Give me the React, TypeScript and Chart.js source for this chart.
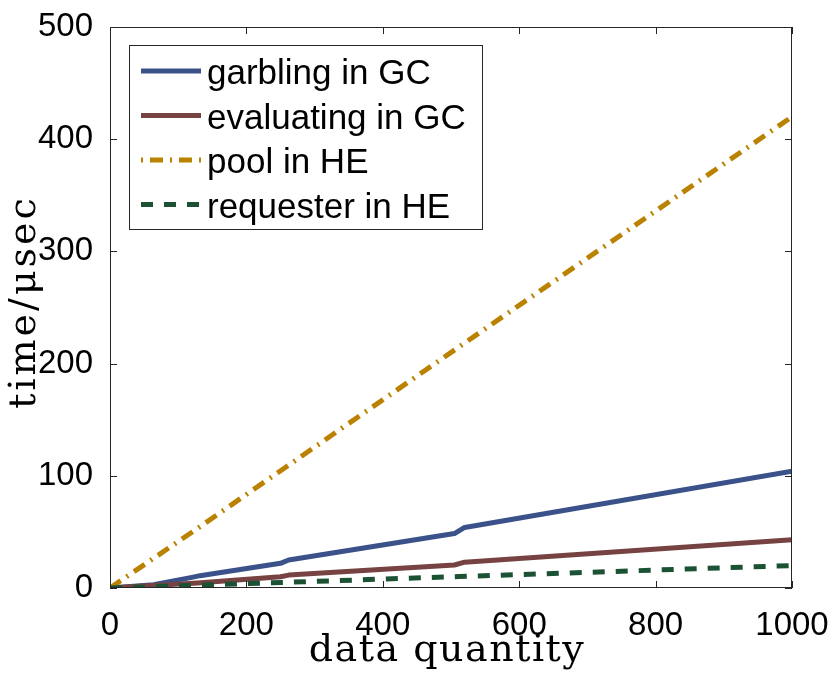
import { useEffect, useRef } from 'react'
import { Chart, registerables, type Plugin } from 'chart.js'

Chart.register(...registerables)

// data
const QTY_GARBLING   = [0, 64, 120, 132, 250, 262, 505, 520, 1000]
const TIME_GARBLING  = [0, 3, 9.5, 11, 22, 25, 48.5, 54, 104]
const QTY_EVALUATING = [0, 128, 250, 262, 505, 520, 1000]
const TIME_EVALUATING = [0, 4.5, 10, 11.5, 20.5, 23, 43]
const QTY_HE         = [0, 128, 256, 512, 1000]
const TIME_POOL      = [0, 53, 107, 215, 420]
const TIME_REQUESTER = [0, 2.5, 5, 10.2, 20]

const SERIES_LABELS = ['garbling in GC', 'evaluating in GC', 'pool in HE', 'requester in HE']
const X_TITLE = 'data quantity'
const Y_TITLE = 'time/μsec'

const BLUE  = '#3a5289'
const BROWN = '#774242'
const GOLD  = '#ba8200'
const GREEN = '#1b5234'
const FRAME = '#262626'

const SANS  = "'Liberation Sans', Arial, sans-serif"
const SERIF = "'DejaVu Serif', serif"

const pts = (xs: number[], ys: number[]) => xs.map((x, i) => ({ x, y: ys[i] }))

// box, inside ticks, axis titles and the boxed legend (MATLAB look)
const decor: Plugin<'line'> = {
  id: 'decor',
  afterDraw(chart) {
    const { ctx, chartArea: a } = chart
    const xs = chart.scales.x
    const ys = chart.scales.y
    ctx.save()

    ctx.strokeStyle = FRAME
    ctx.lineWidth = 1
    ctx.strokeRect(Math.round(a.left) + 0.5, Math.round(a.top) + 0.5,
      Math.round(a.right - a.left) - 1, Math.round(a.bottom - a.top) - 1)

    const TL = 7
    ctx.beginPath()
    xs.ticks.forEach((t) => {
      const p = Math.round(xs.getPixelForValue(t.value)) + 0.5
      ctx.moveTo(p, a.bottom); ctx.lineTo(p, a.bottom - TL)
      ctx.moveTo(p, a.top); ctx.lineTo(p, a.top + TL)
    })
    ys.ticks.forEach((t) => {
      const p = Math.round(ys.getPixelForValue(t.value)) + 0.5
      ctx.moveTo(a.left, p); ctx.lineTo(a.left + TL, p)
      ctx.moveTo(a.right, p); ctx.lineTo(a.right - TL, p)
    })
    ctx.stroke()

    // axis titles
    ctx.fillStyle = '#000'
    ctx.font = `38px ${SERIF}`
    ctx.textAlign = 'center'
    ctx.textBaseline = 'alphabetic'
    ;(ctx as any).letterSpacing = '1.5px'
    ctx.fillText(X_TITLE, (a.left + a.right) / 2 - 4, 661)
    ;(ctx as any).letterSpacing = '3px'
    ctx.save()
    ctx.translate(35, 302)
    ctx.rotate(-Math.PI / 2)
    ctx.fillText(Y_TITLE, 0, 0)
    ctx.restore()
    ;(ctx as any).letterSpacing = '0px'

    // legend
    const L = { x: 129.5, y: 45.5, w: 353, h: 184 }
    ctx.fillStyle = '#fff'
    ctx.fillRect(L.x, L.y, L.w, L.h)
    ctx.strokeStyle = FRAME
    ctx.lineWidth = 1
    ctx.strokeRect(L.x, L.y, L.w, L.h)
    ctx.font = `35px ${SANS}`
    ctx.textAlign = 'left'
    chart.data.datasets.forEach((ds: any, i) => {
      const y = 71 + i * 44.5
      ctx.save()
      ctx.strokeStyle = ds.borderColor
      ctx.lineWidth = ds.borderWidth
      ctx.lineCap = 'butt'
      ctx.setLineDash(ds.borderDash || [])
      ctx.lineDashOffset = ds.legendDashOffset || 0
      ctx.beginPath()
      ctx.moveTo(141, y); ctx.lineTo(201, y)
      ctx.stroke()
      ctx.restore()
      ctx.fillStyle = '#000'
      ctx.fillText(ds.label, 207, y + 13)
    })
    ctx.restore()
  },
}

export default function App() {
  const canvasRef = useRef<HTMLCanvasElement>(null)

  useEffect(() => {
    document.body.style.margin = '0'
    if (!canvasRef.current) return
    const tickFont = { family: SANS, size: 33, lineHeight: 1.2 }

    const chart = new Chart(canvasRef.current, {
      type: 'line',
      data: {
        datasets: [
          {
            label: SERIES_LABELS[0],
            data: pts(QTY_GARBLING, TIME_GARBLING),
            borderColor: BLUE, borderWidth: 5, order: 4,
          },
          {
            label: SERIES_LABELS[1],
            data: pts(QTY_EVALUATING, TIME_EVALUATING),
            borderColor: BROWN, borderWidth: 5, order: 3,
          },
          {
            label: SERIES_LABELS[2],
            data: pts(QTY_HE, TIME_POOL),
            borderColor: GOLD, borderWidth: 5, order: 2,
            borderDash: [13, 7, 2, 7], legendDashOffset: 20,
          } as any,
          {
            label: SERIES_LABELS[3],
            data: pts(QTY_HE, TIME_REQUESTER),
            borderColor: GREEN, borderWidth: 5, order: 1,
            borderDash: [12, 11],
          },
        ],
      },
      options: {
        responsive: true,
        maintainAspectRatio: false,
        animation: false,
        layout: { padding: { top: 27, right: 38, left: 0, bottom: 0 } },
        elements: {
          point: { radius: 0, hoverRadius: 0 },
          line: { tension: 0, borderCapStyle: 'butt', borderJoinStyle: 'round', fill: false },
        },
        plugins: { legend: { display: false }, tooltip: { enabled: false } },
        scales: {
          x: {
            type: 'linear', min: 0, max: 1000,
            grid: { display: false },
            border: { display: false },
            ticks: { stepSize: 200, color: '#000', font: tickFont, padding: 10, maxRotation: 0,
              callback: (v) => String(v) },
            afterFit: (s: any) => { s.height = 96; s.paddingLeft = 0; s.paddingRight = 0 },
          },
          y: {
            type: 'linear', min: 0, max: 500,
            grid: { display: false },
            border: { display: false },
            ticks: { stepSize: 100, color: '#000', font: tickFont, padding: 9,
              callback: (v) => String(v) },
            afterFit: (s: any) => { s.width = 110; s.paddingTop = 0; s.paddingBottom = 0 },
          },
        },
      },
      plugins: [decor],
    })

    return () => chart.destroy()
  }, [])

  return (
    <div style={{ width: 830, height: 684, position: 'relative', background: '#fff' }}>
      <canvas ref={canvasRef} />
    </div>
  )
}
